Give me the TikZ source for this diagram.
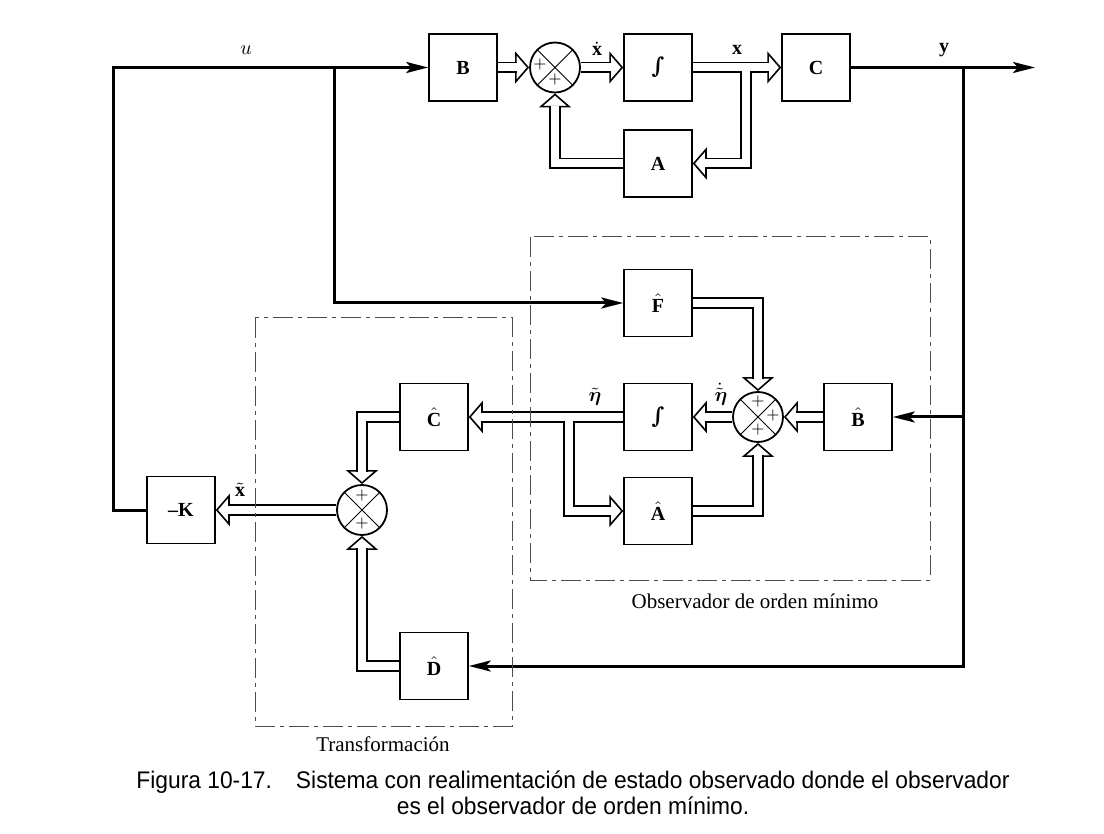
\documentclass[tikz,border=0pt]{standalone}
\usepackage{amsmath}
\usepackage{amssymb}
\usepackage{fontspec}
\setmainfont{Liberation Serif}
\newfontfamily\capfont[FakeStretch=0.95]{Liberation Sans}
\newfontfamily\intfont{DejaVu Serif}
\usetikzlibrary{arrows.meta,backgrounds}

\tikzset{
  blk/.style={draw, line width=0.75pt, fill=white, minimum width=34pt, minimum height=33.5pt, inner sep=0pt, font=\bfseries},
  sumc/.style={draw, circle, line width=0.9pt, fill=white, minimum size=25pt, inner sep=0pt,
    path picture={\draw[line width=0.45pt] (path picture bounding box.north west) -- (path picture bounding box.south east)
      (path picture bounding box.north east) -- (path picture bounding box.south west);}},
  sgn/.style={font=\footnotesize, inner sep=0pt},
  sig/.style={line width=1.5pt, -{Stealth[length=11pt, width=5.5pt, inset=2.5pt]}},
  vec/.style={line width=5.6pt, shorten >=6.2pt,
    preaction={draw, line width=0.8pt, shorten >=0pt, -{Triangle[open, fill=white, length=7pt, width=16pt]}},
    postaction={draw=white, line width=4pt}},
  frm/.style={draw=black!70, line width=0.5pt, dash pattern=on 10pt off 2.5pt on 2pt off 2.5pt},
}
\newcommand{\intg}{{\intfont\bfseries\fontsize{11}{12}\selectfont ∫}}

\begin{document}
\begin{tikzpicture}[x=0.5pt, y=-0.5pt]
\useasboundingbox (0,0) rectangle (1104,834);
% planta
\node[blk] (B) at (463,67.5) {B};
\node[sumc] (s1) at (555,67.5) {};
\node[blk] (int1) at (658,67.5) {\intg};
\node[blk] (C) at (816,67.5) {C};
\node[blk] (A) at (658,163.5) {A};
\node[sgn] (p1a) at (540,65) {$+$};
\node[sgn] (p1b) at (555,80) {$+$};
% observador
\node[blk] (Fh) at (658,303) {$\hat{\textbf{F}}$};
\node[blk] (int2) at (658,417) {\intg};
\node[sumc] (s2) at (758,417) {};
\node[blk] (Bh) at (858,417) {$\hat{\textbf{B}}$};
\node[blk] (Ah) at (658,511) {$\hat{\textbf{A}}$};
\node[sgn] (p2a) at (758,402) {$+$};
\node[sgn] (p2b) at (773,416) {$+$};
\node[sgn] (p2c) at (758,430) {$+$};
% transformacion
\node[blk] (Ch) at (434,417) {$\hat{\textbf{C}}$};
\node[sumc] (s3) at (362,510) {};
\node[blk] (Dh) at (434,666) {$\hat{\textbf{D}}$};
\node[sgn] (p3a) at (362,496) {$+$};
\node[sgn] (p3b) at (362,523) {$+$};
\node[blk] (K) at (181,510) {--K};

% rotulos
\node (lu) at (246,50) {$u$};
\node (lxd) at (597,49) {$\dot{\textbf{x}}$};
\node (lx) at (737,50) {\textbf{x}};
\node (ly) at (944,50) {\textbf{y}};
\node (leta) at (595,397) {$\tilde{\boldsymbol{\eta}}$};
\node (letad) at (721,394) {$\dot{\tilde{\boldsymbol{\eta}}}$};
\node (lxt) at (240,490) {$\tilde{\textbf{x}}$};

\coordinate (jx) at (746,71.5);
\coordinate (jeta) at (569,421);
\coordinate (ucorner) at (113,67.5);
\coordinate (ju) at (334,67.5);
\coordinate (yend) at (1035,67.5);
\coordinate (jy) at (963.5,67.5);
\coordinate (jyb) at (963.5,417);

\begin{scope}[on background layer]
\draw[vec] (B) -- (s1);
\draw[vec] (s1) -- (int1);
\draw[vec] (int1) -- (C);
\draw[vec] (jx) |- (A.east);
\draw[vec] (A.west) -| (s1.south);
\draw[vec] (Fh.east) -| (s2.north);
\draw[vec] (Bh) -- (s2);
\draw[vec] (Ah.east) -| (s2.south);
\draw[vec] (s2) -- (int2);
\draw[vec] (int2) -- (Ch);
\draw[vec] (jeta) |- (Ah.west);
\draw[vec] (Ch.west) -| (s3.north);
\draw[vec] (Dh.west) -| (s3.south);
\draw[vec] (s3) -- (K);

\draw[sig] (C.east) -- (yend);
\draw[sig] (jy) |- (Dh.east);
\draw[sig] (jyb) -- (Bh.east);
\draw[sig] (K.west) -| (ucorner) -- (B.west);
\draw[sig] (ju) |- (Fh.west);
\end{scope}

\draw[frm] (530,237) rectangle (930,580);
\draw[frm] (255,318) rectangle (512,726);
\node[font=\fontsize{10.5}{12}\selectfont] (lobs) at (755,601) {Observador de orden mínimo};
\node[font=\fontsize{10.5}{12}\selectfont] (ltr) at (383,744) {Transformación};

\node[font=\capfont\fontsize{12}{13}\selectfont, align=center] (cap) at (573,793)
  {Figura 10-17.\hspace{12pt}Sistema con realimentación de estado observado donde el observador\\
   es el observador de orden mínimo.};
\end{tikzpicture}
\end{document}
